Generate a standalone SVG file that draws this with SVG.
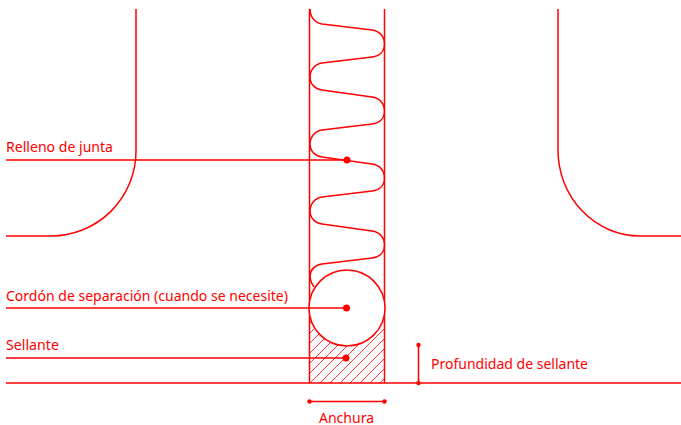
<svg xmlns="http://www.w3.org/2000/svg" width="681" height="425" viewBox="0 0 681 425">
<style>
.l{fill:none;stroke:#f00;stroke-width:1.5}
.h{stroke:#f00;stroke-width:.8;fill:none}
.d{fill:#f00}
text{font-family:"Noto Sans","Open Sans","Liberation Sans",sans-serif;font-size:14.5px;fill:#f00}
</style>
<defs>
<clipPath id="hc"><path d="M310 383V300H384V383Z"/></clipPath>
</defs>
<rect width="681" height="425" fill="#fff"/>
<g id="joint-left"><path class="l" d="M136 9V151A85 85 0 0 1 51 236H6"/></g>
<g id="joint-right"><path class="l" d="M558 9V150A82 86 0 0 0 640 236H681"/></g>
<g id="sealant-hatch"><g class="h" clip-path="url(#hc)">
<path d="M310 323L333 300M310 333L343 300M310 343L353 300M310 353L363 300M310 363L373 300M310 373L383 300M310 383L393 300M320 383L403 300M330 383L413 300M340 383L423 300M350 383L433 300M360 383L443 300M370 383L453 300M380 383L463 300"/></g></g>
<g id="filler"><path class="l" d="M310 9C310 17 315 23 322 24L372 30C380 31 384.500 37 384.500 44C384.500 51 380 56 372 57L322 63C315 64 310 70 310 77C310 84 315 89 322 90L372 97C380 98 384.500 104 384.500 111C384.500 118 380 123 372 124L322 130C315 131 310 137 310 144C310 151 315 156 322 157L372 164C380 165 384.500 171 384.500 178C384.500 185 380 190 372 191L322 197C315 198 310 204 310 211C310 218 315 223 322 224L372 231C380 232 384.500 238 384.500 245C384.500 252 380 257 372 258L322 264C315 265 310 270 310 276C310 280 312 284 314 287"/></g>
<g id="joint-walls"><path class="l" d="M309.500 9V383M384.500 9V383"/></g>
<g id="backer-rod"><circle class="l" cx="347" cy="308" r="38" style="fill:#fff"/></g>
<g id="connectors">
<path class="l" d="M6 160H347M6 308H347M6 358H346M6 383H681M418.500 345V383M309 401.500H384.500"/>
<circle class="d" cx="347" cy="160" r="3.500"/>
<circle class="d" cx="346.500" cy="308" r="3.500"/>
<circle class="d" cx="346" cy="358" r="3.500"/>
<circle class="d" cx="418.500" cy="345" r="2.200"/>
<circle class="d" cx="418.500" cy="383" r="2.200"/>
<circle class="d" cx="309.500" cy="401.500" r="2.200"/>
<circle class="d" cx="384.500" cy="401.500" r="2.200"/>
</g>
<g id="label-relleno"><text x="6" y="152" textLength="107" lengthAdjust="spacingAndGlyphs">Relleno de junta</text></g>
<g id="label-cordon"><text x="6" y="301" textLength="282" lengthAdjust="spacingAndGlyphs">Cordón de separación (cuando se necesite)</text></g>
<g id="label-sellante"><text x="6" y="350" textLength="53" lengthAdjust="spacingAndGlyphs">Sellante</text></g>
<g id="label-profundidad"><text x="431" y="369" textLength="157" lengthAdjust="spacingAndGlyphs">Profundidad de sellante</text></g>
<g id="label-anchura"><text x="319" y="422.500" textLength="55" lengthAdjust="spacingAndGlyphs">Anchura</text></g>
</svg>
